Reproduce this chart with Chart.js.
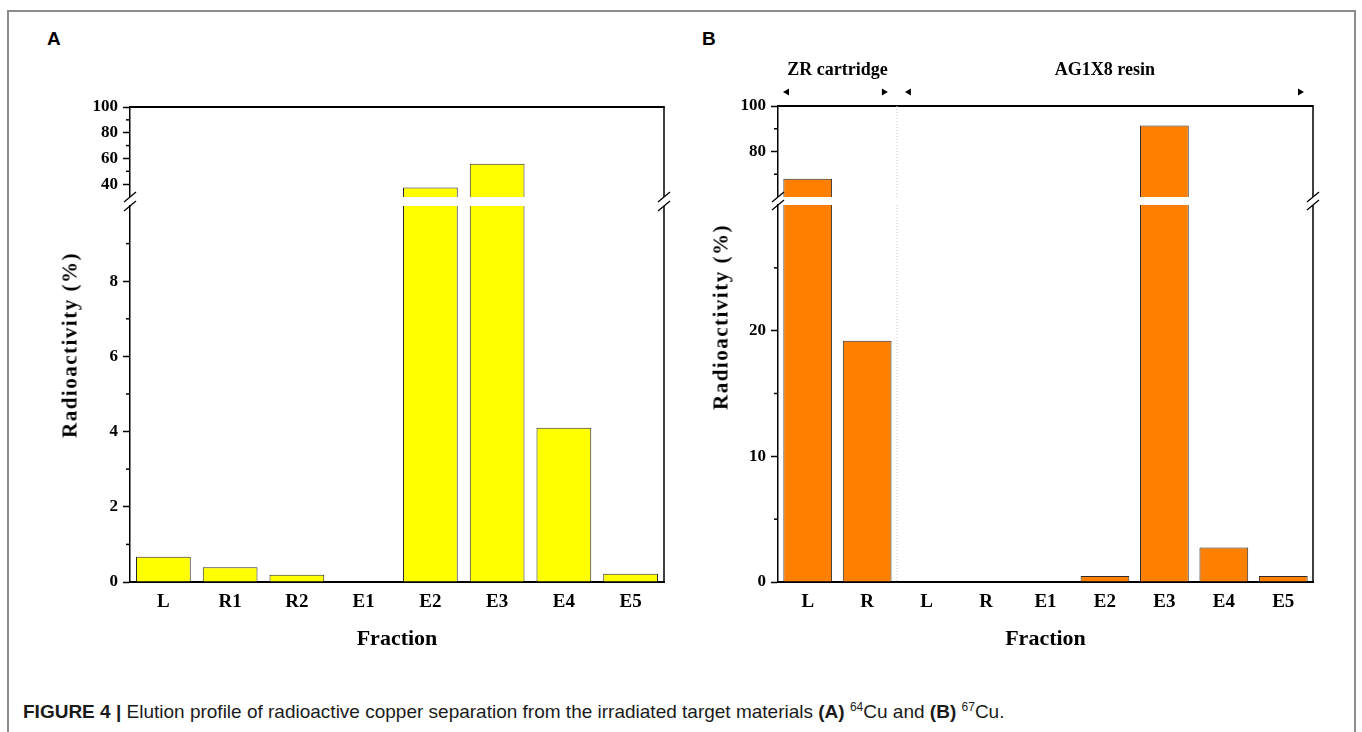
<!DOCTYPE html>
<html>
<head>
<meta charset="utf-8">
<script src="https://cdn.jsdelivr.net/npm/chart.js@4.4.0/dist/chart.umd.min.js"></script>
<style>
  html, body { margin: 0; padding: 0; background: #fff; }
  body { width: 1362px; height: 732px; position: relative; overflow: hidden; font-family: "Liberation Sans", Arial, sans-serif; }
  .frame { position: absolute; left: 7px; top: 10px; width: 1349px; height: 780px; border: 2px solid #8c8c8c; box-sizing: border-box; }
  .cv { position: absolute; }
  .letter { position: absolute; font: bold 19px "Liberation Sans", Arial, sans-serif; line-height: 1; }
  .ytitle { position: absolute; font: bold 21px "Liberation Serif", serif; letter-spacing: 1.5px; white-space: nowrap;
            transform: translate(-50%, -50%) rotate(-90deg); }
  .caption { position: absolute; left: 23px; top: 701px; font-size: 19px; line-height: 22px; color: #1a1a1a; white-space: nowrap; }
  .caption sup { font-size: 12px; vertical-align: 7px; line-height: 0; }
</style>
</head>
<body>
<div class="frame"></div>
<div class="letter" style="left:47px;top:29px">A</div>
<div class="letter" style="left:702px;top:29px">B</div>

<canvas id="aHigh" class="cv" width="614" height="102" style="left:70px;top:95px"></canvas>
<canvas id="aLow" class="cv" width="614" height="470" style="left:70px;top:190px"></canvas>
<canvas id="bHigh" class="cv" width="615" height="147" style="left:718px;top:50px"></canvas>
<canvas id="bLow" class="cv" width="615" height="470" style="left:718px;top:190px"></canvas>

<div class="ytitle" style="left:70px;top:345px">Radioactivity (%)</div>
<div class="ytitle" style="left:721px;top:317px">Radioactivity (%)</div>

<div class="caption"><b>FIGURE 4 |</b> Elution profile of radioactive copper separation from the irradiated target materials <b>(A)</b> <sup>64</sup>Cu and <b>(B)</b> <sup>67</sup>Cu.</div>

<script>
// Datos
const fracA = ['L', 'R1', 'R2', 'E1', 'E2', 'E3', 'E4', 'E5'];
const actA = [0.67, 0.39, 0.19, 0, 37.3, 55.8, 4.1, 0.22];
const fracB = ['L', 'R', 'L', 'R', 'E1', 'E2', 'E3', 'E4', 'E5'];
const actB = [68.0, 19.2, 0, 0, 0, 0.48, 91.4, 2.74, 0.48];

// Tramos del eje y cortado
const rangeALow = [0, 10];
const rangeAHigh = [30, 100];
const rangeBLow = [0, 30];
const rangeBHigh = [60, 100];

const ticksALow = [0, 2, 4, 6, 8];
const minorALow = [1, 3, 5, 7, 9];
const ticksAHigh = [40, 60, 80, 100];
const minorAHigh = [50, 70, 90];
const ticksBLow = [0, 10, 20];
const minorBLow = [5, 15, 25];
const ticksBHigh = [80, 100];
const minorBHigh = [70, 90];

const groupNames = ['ZR cartridge', 'AG1X8 resin'];
const groupSpans = [[0, 1], [2, 8]];

const serif = 'Liberation Serif';

// Marco, ticks menores, corte, separador y grupos
function makeDecor(o) {
  return {
    id: 'decor',
    afterDraw(chart) {
      const { ctx, chartArea: a } = chart;
      const x = chart.scales.x, y = chart.scales.y;
      ctx.save();
      ctx.strokeStyle = '#000';
      ctx.fillStyle = '#000';
      ctx.lineWidth = 1.5;

      o.minor.forEach(v => {
        const py = y.getPixelForValue(v);
        ctx.beginPath();
        ctx.moveTo(a.left - 4, py);
        ctx.lineTo(a.left, py);
        ctx.stroke();
      });

      ctx.beginPath();
      ctx.moveTo(a.right, a.top);
      ctx.lineTo(a.right, a.bottom);
      ctx.stroke();

      if (o.part === 'high') {
        ctx.lineWidth = 2;
        ctx.beginPath();
        ctx.moveTo(a.left - 0.75, a.top);
        ctx.lineTo(a.right + 0.75, a.top);
        ctx.stroke();
      }

      if (o.part === 'low') {
        ctx.lineWidth = 1.3;
        [a.left, a.right].forEach(px => {
          [a.top - o.gap, a.top].forEach(py => {
            ctx.beginPath();
            ctx.moveTo(px - 6, py + 5);
            ctx.lineTo(px + 6, py - 5);
            ctx.stroke();
          });
        });
      }

      const half = (x.getPixelForValue(1) - x.getPixelForValue(0)) / 2;
      if (o.sep) {
        const sx = x.getPixelForValue(1) + half;
        ctx.strokeStyle = '#c8c8c8';
        ctx.lineWidth = 1;
        ctx.setLineDash([1, 2]);
        ctx.beginPath();
        ctx.moveTo(sx, a.top);
        ctx.lineTo(sx, a.bottom);
        ctx.stroke();
        ctx.setLineDash([]);
      }

      if (o.groups) {
        ctx.font = 'bold 18px "' + serif + '"';
        ctx.textAlign = 'center';
        ctx.textBaseline = 'middle';
        groupSpans.forEach((s, i) => {
          const x0 = x.getPixelForValue(s[0]) - half;
          const x1 = x.getPixelForValue(s[1]) + half;
          ctx.fillText(groupNames[i], (x0 + x1) / 2, a.top - 36);
          const ty = a.top - 14;
          const l = x0 + (i === 0 ? 5 : 8);
          ctx.beginPath();
          ctx.moveTo(l, ty); ctx.lineTo(l + 6, ty - 3.5); ctx.lineTo(l + 6, ty + 3.5);
          ctx.fill();
          const r = x1 - 9;
          ctx.beginPath();
          ctx.moveTo(r, ty); ctx.lineTo(r - 6, ty - 3.5); ctx.lineTo(r - 6, ty + 3.5);
          ctx.fill();
        });
      }
      ctx.restore();
    }
  };
}

function makeChart(id, o) {
  return new Chart(document.getElementById(id), {
    type: 'bar',
    data: {
      labels: o.labels,
      datasets: [{
        data: o.values,
        backgroundColor: o.color,
        borderColor: '#2b2b2b',
        borderWidth: 1,
        barPercentage: 0.82,
        categoryPercentage: 1,
        clip: 0
      }]
    },
    options: {
      responsive: false,
      animation: false,
      events: [],
      layout: { padding: { top: o.padTop, right: 20, left: 0, bottom: 0 } },
      plugins: { legend: { display: false }, tooltip: { enabled: false } },
      scales: {
        x: {
          display: o.part === 'low',
          grid: { display: false, drawTicks: false },
          border: { display: true, color: '#000', width: 2 },
          ticks: { color: '#000', font: { family: serif, weight: 'bold', size: 19 }, padding: 9, maxRotation: 0 },
          title: {
            display: true, text: 'Fraction', color: '#000',
            font: { family: serif, weight: 'bold', size: 22 },
            padding: { top: 0, bottom: 7 }
          },
          afterFit: s => {
            if (o.part === 'low') s.height = 78;
            s.paddingLeft = 0;
            s.paddingRight = 0;
          }
        },
        y: {
          min: o.range[0],
          max: o.range[1],
          grid: { drawOnChartArea: false, drawTicks: true, tickLength: 7, tickColor: '#000', tickWidth: 1.5 },
          border: { display: true, color: '#000', width: 1.5 },
          ticks: { color: '#000', font: { family: serif, weight: 'bold', size: 17 }, padding: 5 },
          afterBuildTicks: s => { s.ticks = o.major.map(v => ({ value: v })); },
          afterFit: s => {
            s.width = 60;
            s.paddingTop = 0;
            s.paddingBottom = 0;
          }
        }
      }
    },
    plugins: [makeDecor(o)]
  });
}

// Panel A (64Cu)
makeChart('aHigh', { labels: fracA, values: actA, color: '#ffff00', part: 'high', padTop: 12,
  range: rangeAHigh, major: ticksAHigh, minor: minorAHigh });
makeChart('aLow', { labels: fracA, values: actA, color: '#ffff00', part: 'low', padTop: 16, gap: 9,
  range: rangeALow, major: ticksALow, minor: minorALow });

// Panel B (67Cu)
makeChart('bHigh', { labels: fracB, values: actB, color: '#ff8000', part: 'high', padTop: 56, sep: true, groups: true,
  range: rangeBHigh, major: ticksBHigh, minor: minorBHigh });
makeChart('bLow', { labels: fracB, values: actB, color: '#ff8000', part: 'low', padTop: 15, gap: 8, sep: true,
  range: rangeBLow, major: ticksBLow, minor: minorBLow });
</script>
</body>
</html>
